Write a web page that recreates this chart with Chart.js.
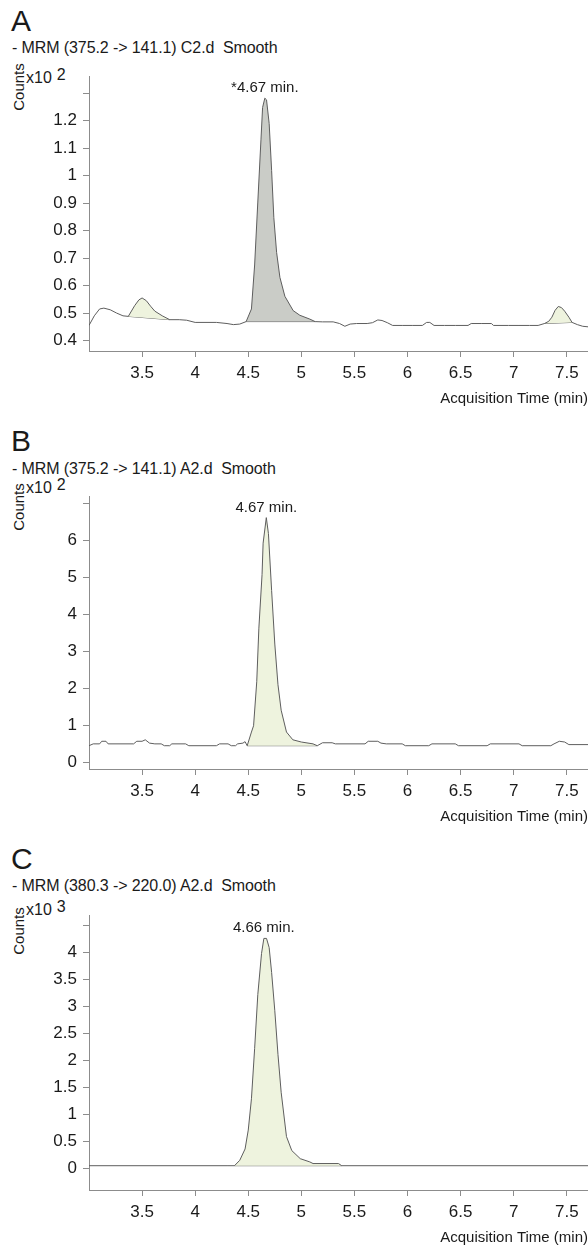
<!DOCTYPE html>
<html>
<head>
<meta charset="utf-8">
<title>MRM chromatograms</title>
<script src="https://cdn.jsdelivr.net/npm/chart.js@4.4.0/dist/chart.umd.min.js"></script>
<style>
  html, body { margin: 0; padding: 0; background: #fff; }
  #page {
    position: relative; width: 588px; height: 1252px; overflow: hidden;
    font-family: "Liberation Sans", Arial, sans-serif; color: #1a1a1a;
  }
  .letter { position: absolute; left: 11px; font-size: 30px; line-height: 30px; }
  .title { position: absolute; left: 12px; font-size: 16px; line-height: 16px; white-space: pre; letter-spacing: -0.1px; }
  .counts {
    position: absolute; width: 60px; height: 16px; font-size: 15px; line-height: 16px;
    text-align: center; transform: rotate(-90deg);
  }
  .mult { position: absolute; left: 26px; font-size: 16px; line-height: 16px; white-space: nowrap; }
  .mult span { position: relative; top: -3px; margin-left: 5px; }
  .box { position: absolute; left: 0; width: 588px; }
</style>
</head>
<body>
<div id="page">
  <div class="letter" style="top:6px">A</div>
  <div class="title" style="top:40px">- MRM (375.2 -&gt; 141.1) C2.d  Smooth</div>
  <div class="counts" style="left:-11px; top:79px">Counts</div>
  <div class="mult" style="top:70px">x10<span>2</span></div>
  <div class="box" style="top:60px; height:351px"><canvas id="chartA"></canvas></div>

  <div class="letter" style="top:426px">B</div>
  <div class="title" style="top:461px">- MRM (375.2 -&gt; 141.1) A2.d  Smooth</div>
  <div class="counts" style="left:-11px; top:499px">Counts</div>
  <div class="mult" style="top:480px">x10<span>2</span></div>
  <div class="box" style="top:480px; height:349px"><canvas id="chartB"></canvas></div>

  <div class="letter" style="top:844px">C</div>
  <div class="title" style="top:878px">- MRM (380.3 -&gt; 220.0) A2.d  Smooth</div>
  <div class="counts" style="left:-11px; top:923px">Counts</div>
  <div class="mult" style="top:902px">x10<span>3</span></div>
  <div class="box" style="top:899px; height:351px"><canvas id="chartC"></canvas></div>
</div>

<script>
// shared x axis (min)
const xTicks = [3.5, 4, 4.5, 5, 5.5, 6, 6.5, 7, 7.5];
const xTickLabels = ['3.5', '4', '4.5', '5', '5.5', '6', '6.5', '7', '7.5'];

// A : 375.2 -> 141.1, C2.d (counts x10^2)
const timesA = [3.00, 3.05, 3.10, 3.14, 3.20, 3.26, 3.32, 3.37, 3.43, 3.47, 3.50, 3.54, 3.58, 3.62, 3.69, 3.76,
  3.85, 3.92, 4.00, 4.20, 4.30, 4.36, 4.42, 4.48, 4.53, 4.56, 4.59, 4.62, 4.635, 4.656, 4.672, 4.697, 4.72,
  4.741, 4.767, 4.798, 4.845, 4.923, 4.986, 5.08, 5.13, 5.20, 5.30, 5.36, 5.41, 5.46, 5.52, 5.62, 5.67, 5.72,
  5.76, 5.81, 5.86, 5.95, 6.05, 6.14, 6.18, 6.21, 6.25, 6.35, 6.45, 6.57, 6.60, 6.70, 6.79, 6.81, 6.95, 7.05,
  7.15, 7.23, 7.29, 7.33, 7.36, 7.39, 7.42, 7.45, 7.48, 7.52, 7.55, 7.60, 7.65, 7.70];
const countsA = [0.455, 0.49, 0.515, 0.518, 0.512, 0.50, 0.49, 0.488, 0.527, 0.548, 0.555, 0.545, 0.525, 0.507, 0.49, 0.476,
  0.476, 0.474, 0.466, 0.466, 0.462, 0.458, 0.460, 0.469, 0.515, 0.675, 0.904, 1.133, 1.248, 1.282, 1.276, 1.19, 1.019,
  0.847, 0.721, 0.63, 0.561, 0.509, 0.492, 0.478, 0.469, 0.468, 0.468, 0.462, 0.452, 0.46, 0.462, 0.462, 0.465, 0.475,
  0.473, 0.465, 0.455, 0.455, 0.455, 0.455, 0.466, 0.466, 0.455, 0.455, 0.455, 0.455, 0.462, 0.462, 0.462, 0.455, 0.455, 0.455,
  0.455, 0.455, 0.462, 0.47, 0.485, 0.51, 0.524, 0.52, 0.507, 0.485, 0.466, 0.458, 0.452, 0.45];
const peakStartA = [3.37, 4.48, 7.29];
const peakEndA = [3.76, 5.13, 7.55];
const yTicksA = [0.4, 0.5, 0.6, 0.7, 0.8, 0.9, 1.0, 1.1, 1.2, 1.3];
const yTickLabelsA = ['0.4', '0.5', '0.6', '0.7', '0.8', '0.9', '1', '1.1', '1.2', ''];

// B : 375.2 -> 141.1, A2.d (counts x10^2)
const timesB = [3.00, 3.04, 3.10, 3.12, 3.16, 3.18, 3.42, 3.45, 3.50, 3.53, 3.57, 3.62, 3.68, 3.71, 3.76, 3.78,
  3.91, 3.94, 4.20, 4.23, 4.31, 4.34, 4.38, 4.40, 4.45, 4.47, 4.49, 4.53, 4.55, 4.58, 4.60, 4.63, 4.64, 4.67,
  4.69, 4.72, 4.75, 4.78, 4.81, 4.86, 4.92, 5.00, 5.11, 5.15, 5.20, 5.29, 5.32, 5.60, 5.63, 5.72, 5.75, 5.80,
  5.95, 5.98, 6.20, 6.23, 6.45, 6.48, 6.75, 6.78, 7.05, 7.08, 7.35, 7.38, 7.43, 7.48, 7.52, 7.70];
const countsB = [0.45, 0.50, 0.50, 0.57, 0.57, 0.50, 0.50, 0.57, 0.57, 0.61, 0.52, 0.50, 0.50, 0.45, 0.45, 0.50,
  0.50, 0.45, 0.45, 0.50, 0.50, 0.45, 0.45, 0.50, 0.52, 0.56, 0.45, 0.82, 0.99, 2.18, 3.63, 5.08, 5.93, 6.62,
  6.19, 4.65, 3.20, 2.10, 1.41, 0.82, 0.61, 0.55, 0.50, 0.45, 0.53, 0.53, 0.50, 0.50, 0.57, 0.57, 0.52, 0.50,
  0.50, 0.45, 0.45, 0.50, 0.50, 0.45, 0.45, 0.50, 0.50, 0.45, 0.45, 0.50, 0.57, 0.55, 0.48, 0.48];
const peakStartB = [4.49];
const peakEndB = [5.15];
const yTicksB = [0, 1, 2, 3, 4, 5, 6, 7];
const yTickLabelsB = ['0', '1', '2', '3', '4', '5', '6', ''];

// C : 380.3 -> 220.0, A2.d (counts x10^3)
const timesC = [3.00, 4.30, 4.37, 4.42, 4.47, 4.50, 4.53, 4.56, 4.59, 4.625, 4.647, 4.672, 4.697, 4.72, 4.75,
  4.78, 4.81, 4.86, 4.91, 4.99, 5.08, 5.11, 5.35, 5.38, 7.70];
const countsC = [0.05, 0.05, 0.05, 0.15, 0.36, 0.71, 1.29, 2.22, 3.22, 3.98, 4.26, 4.26, 4.09, 3.63, 2.92,
  2.11, 1.41, 0.59, 0.33, 0.18, 0.12, 0.09, 0.09, 0.05, 0.05];
const peakStartC = [4.37];
const peakEndC = [5.38];
const yTicksC = [0, 0.5, 1, 1.5, 2, 2.5, 3, 3.5, 4, 4.5];
const yTickLabelsC = ['0', '0.5', '1', '1.5', '2', '2.5', '3', '3.5', '4', ''];

const TEXT = '#1a1a1a';
const AXIS = '#8c8c8c';
const TRACE = '#5e5e5e';
const GREEN = '#eef3de';
const GRAY = '#caccc7';

Chart.defaults.font.family = '"Liberation Sans", Arial, sans-serif';
Chart.defaults.color = TEXT;

// label over the main peak, placed from the scales
const peakLabelPlugin = {
    id: 'peakLabel',
    afterDraw(chart, args, opts) {
        const { ctx, scales } = chart;
        const px = scales.x.getPixelForValue(opts.time);
        const py = scales.y.getPixelForValue(opts.value);
        ctx.save();
        ctx.font = '15px "Liberation Sans", Arial, sans-serif';
        ctx.fillStyle = TEXT;
        ctx.textAlign = 'center';
        ctx.textBaseline = 'alphabetic';
        ctx.fillText(opts.text, px, py - 6);
        ctx.restore();
    }
};

function makeChart(id, times, counts, starts, ends, fills, yMin, yMax, yTicks, yLabels, label) {
    const trace = times.map((t, i) => ({ x: t, y: counts[i] }));
    const datasets = [{
        data: trace, borderColor: TRACE, borderWidth: 1, pointRadius: 0, fill: false, tension: 0
    }];

    starts.forEach((s, k) => {
        const seg = trace.filter(p => p.x >= s && p.x <= ends[k]);
        const base = [seg[0], seg[seg.length - 1]];
        datasets.push({
            data: seg, borderColor: 'rgba(0,0,0,0)', borderWidth: 1, pointRadius: 0,
            backgroundColor: fills[k], fill: '+1', tension: 0
        });
        datasets.push({
            data: base, borderColor: TRACE, borderWidth: 1, pointRadius: 0, fill: false, tension: 0
        });
    });

    // peak apex for the label
    let top = trace[0];
    trace.forEach(p => { if (p.y > top.y) top = p; });

    return new Chart(document.getElementById(id), {
        type: 'line',
        data: { datasets: datasets },
        options: {
            responsive: true,
            maintainAspectRatio: false,
            animation: false,
            layout: { padding: 0 },
            plugins: {
                legend: { display: false },
                tooltip: { enabled: false },
                peakLabel: { text: label, time: top.x, value: top.y }
            },
            scales: {
                x: {
                    type: 'linear', min: 3.0, max: 7.7,
                    afterBuildTicks: s => { s.ticks = xTicks.map(v => ({ value: v })); },
                    afterFit: s => { s.height = 60; },
                    ticks: {
                        callback: (v, i) => xTickLabels[i],
                        font: { size: 17 }, color: TEXT, padding: 6, maxRotation: 0
                    },
                    grid: { drawOnChartArea: false, tickLength: 6, color: AXIS },
                    border: { color: AXIS },
                    title: {
                        display: true, text: 'Acquisition Time (min)', align: 'end',
                        font: { size: 15 }, color: TEXT, padding: { top: 0, bottom: 3 }
                    }
                },
                y: {
                    type: 'linear', min: yMin, max: yMax,
                    afterBuildTicks: s => { s.ticks = yTicks.map(v => ({ value: v })); },
                    afterFit: s => { s.width = 89; },
                    ticks: {
                        callback: (v, i) => yLabels[i],
                        font: { size: 17 }, color: TEXT, padding: 6
                    },
                    grid: { drawOnChartArea: false, tickLength: 6, color: AXIS },
                    border: { color: AXIS }
                }
            }
        },
        plugins: [peakLabelPlugin]
    });
}

document.addEventListener('DOMContentLoaded', function() {
    makeChart('chartA', timesA, countsA, peakStartA, peakEndA, [GREEN, GRAY, GREEN],
        0.362, 1.362, yTicksA, yTickLabelsA, '*4.67 min.');
    makeChart('chartB', timesB, countsB, peakStartB, peakEndB, [GREEN],
        -0.18, 7.2, yTicksB, yTickLabelsB, '4.67 min.');
    makeChart('chartC', timesC, countsC, peakStartC, peakEndC, [GREEN],
        -0.40, 4.69, yTicksC, yTickLabelsC, '4.66 min.');
});
</script>
</body>
</html>
